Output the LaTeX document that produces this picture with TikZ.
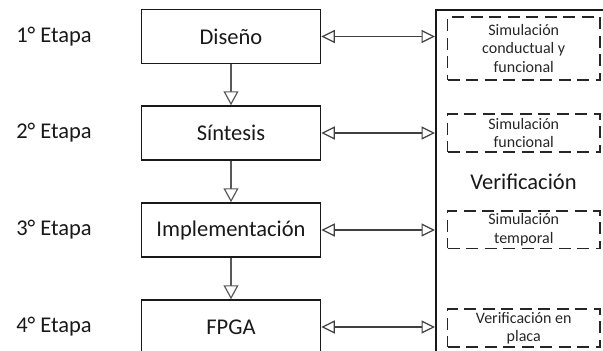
\documentclass[tikz,border=0pt]{standalone}
\usepackage{fontspec}
\setmainfont{Carlito}
\usetikzlibrary{arrows.meta}
\begin{document}
\begin{tikzpicture}[x=1pt,y=-1pt,
  stage/.style={draw=black!90, line width=1.5pt, minimum width=179pt, minimum height=54pt,
    inner sep=0pt, font=\fontsize{22.5}{26}\selectfont, text=black!90},
  stagelabel/.style={font=\fontsize{22.5}{26}\selectfont, text=black!90},
  check/.style={draw=black!85, line width=1.8pt, dash pattern=on 12pt off 6.5pt,
    minimum width=152.5pt, inner sep=0pt, align=center,
    font=\fontsize{16}{18.3}\selectfont, text=black!85},
  flow/.style={draw=black!65, line width=1.3pt,
    -{Triangle[open, length=14pt, width=15pt, line width=1.2pt, fill=white]}},
  link/.style={draw=black!75, line width=1.2pt,
    {Triangle[open, length=13.5pt, width=13pt, line width=1.2pt, fill=white]}-{Triangle[open, length=13.5pt, width=13pt, line width=1.2pt, fill=white]}}
]
\useasboundingbox (0,0) rectangle (603,351);
\clip (0,0) rectangle (603,351);

% design flow stages
\node[stage] (d1) at (231,36.5) {Diseño};
\node[stage] (d2) at (231,133) {Síntesis};
\node[stage] (d3) at (231,230) {Implementación};
\node[stage] (d4) at (231,327) {FPGA};

% stage numbers
\node[stagelabel] (e1) at (54,36.5) {1° Etapa};
\node[stagelabel] (e2) at (54,133) {2° Etapa};
\node[stagelabel] (e3) at (54,230) {3° Etapa};
\node[stagelabel] (e4) at (54,327) {4° Etapa};

% verification column
\node[draw=black!90, line width=2pt, minimum width=260pt, minimum height=420pt,
  anchor=north west, inner sep=0pt] (ver) at (435,9.3) {};
\node[stagelabel] (vt) at (523.5,181.5) {Verificación};

\node[check, minimum height=63pt] (c1) at (523.75,48.5) {Simulación\\conductual y\\funcional};
\node[check, minimum height=38pt] (c2) at (523.75,133.2) {Simulación\\funcional};
\node[check, minimum height=37.5pt] (c3) at (523.75,229.7) {Simulación\\temporal};
\node[check, minimum height=38pt] (c4) at (523.75,328) {Verificación en\\placa};

% flow between stages
\draw[flow] (d1.south) -- (d2.north);
\draw[flow] (d2.south) -- (d3.north);
\draw[flow] (d3.south) -- (d4.north);

% links to verification
\draw[link] (d1.east) -- (d1.east -| ver.west);
\draw[link] (d2.east) -- (d2.east -| ver.west);
\draw[link] (d3.east) -- (d3.east -| ver.west);
\draw[link] (d4.east) -- (d4.east -| ver.west);
\end{tikzpicture}
\end{document}
